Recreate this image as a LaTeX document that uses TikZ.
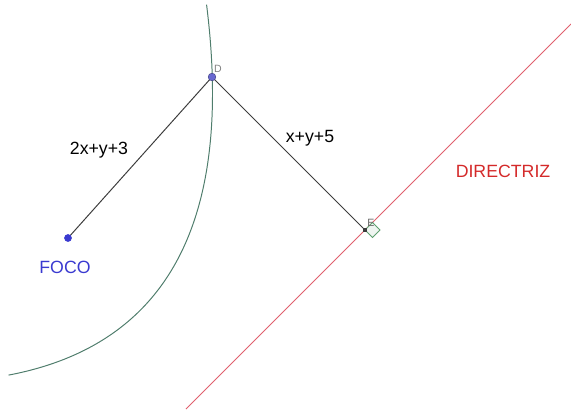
\documentclass[tikz,border=0pt]{standalone}
\usepackage{fontspec}
\setmainfont{Liberation Sans}
\usepackage{xcolor}
\usepackage{tikz}
\usetikzlibrary{positioning,backgrounds}
\definecolor{parabgreen}{HTML}{4F7D6C}
\definecolor{dirred}{HTML}{E0606E}
\definecolor{labelred}{HTML}{D42A2A}
\definecolor{focoblue}{HTML}{3A3AD0}
\definecolor{ptblue}{HTML}{6868D0}
\definecolor{seggray}{HTML}{3C3C3C}
\definecolor{markgreen}{HTML}{5FA070}

\begin{document}
\begin{tikzpicture}[
  x=0.025cm, y=-0.025cm,
  every node/.style={font=\fontsize{12.6}{15}\selectfont},
  dot/.style={circle, inner sep=0pt, minimum size=5.5pt},
  sqdot/.style={rectangle, inner sep=0pt, minimum size=3.2pt, fill=seggray},
  small/.style={font=\fontsize{7.5}{9}\selectfont, text=gray, inner sep=0pt},
  seg/.style={draw=seggray, line width=0.7pt},
  directriz/.style={draw=dirred, line width=0.7pt},
  parab/.style={draw=parabgreen, line width=0.7pt},
  rightmark/.style={draw=markgreen, fill=markgreen!10, line width=0.6pt}
]
\useasboundingbox (0,0) rectangle (571,409);

% Points
\node[dot, fill=focoblue] (foco) at (68,238) {};
\node[dot, fill=ptblue, draw=ptblue!60!black, line width=0.3pt] (D) at (212,77) {};
\node[sqdot] (E) at (365,230) {};
\coordinate (dirA) at (186,409);
\coordinate (dirB) at (571,24);

% Labels
\node[small] (labD) at (218,69) {D};
\node[small, text=seggray!80] (labE) at (371,223) {E};
\node (lab1) at (99,150) {2x+y+3};
\node (lab2) at (310,138) {x+y+5};
\node[text=labelred] (labdir) at (503,171) {DIRECTRIZ};
\node[text=focoblue] (labfoco) at (65,267) {FOCO};

\begin{scope}[on background layer]
  % Parabola
  \draw[parab] plot[domain=-139:263, samples=120, smooth]
    ({140.25+(\x-(\x/20.217)^2)/1.4142}, {310.25-((\x/20.217)^2+\x)/1.4142});
  % Directrix
  \draw[directriz] (dirA) -- (dirB);
  % Right angle
  \draw[rightmark] (E.center) -- ++(7.5,-7.5) -- ++(7.5,7.5) -- ++(-7.5,7.5) -- cycle;
  % Distances
  \draw[seg] (foco.center) -- (D.center);
  \draw[seg] (D.center) -- (E.center);
\end{scope}

\end{tikzpicture}
\end{document}
